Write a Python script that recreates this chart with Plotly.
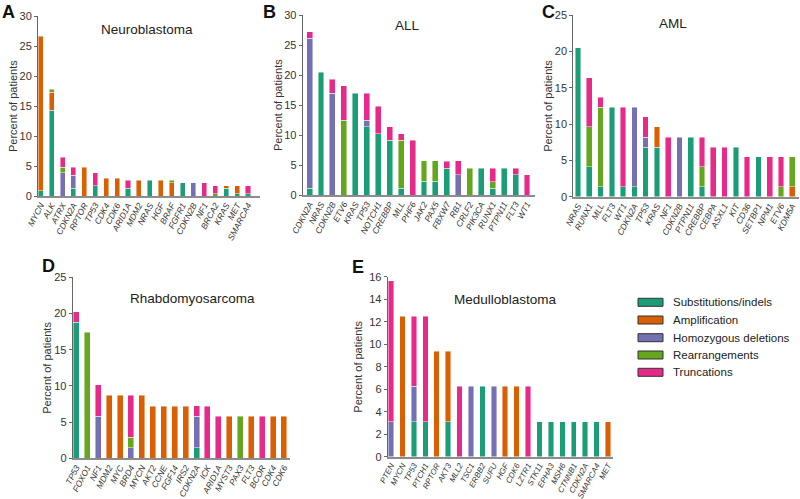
import plotly.graph_objects as go

CATS = ["Substitutions/indels", "Amplification", "Homozygous deletions", "Rearrangements", "Truncations"]
COLORS = ["#1b9e77", "#d95f02", "#7570b3", "#66a61e", "#e7298a"]

# ---------------- A: Neuroblastoma ----------------
nb_genes = ["MYCN", "ALK", "ATRX", "CDKN2A", "RPTOR", "TP53", "CDK4", "CDK6", "ARID1A", "MDM2",
            "NRAS", "HGF", "BRAF", "FGFR1", "CDKN2B", "NF1", "BRCA2", "KRAS", "MET", "SMARCA4"]
nb_subst = [0.9, 14.3, 0, 1.3, 0, 1.7, 0, 0, 1.3, 0, 2.6, 0, 0, 2.2, 0, 0, 0, 1.3, 0.4, 0.4]
nb_amp = [25.7, 3.0, 0, 0, 4.8, 0, 3.0, 3.0, 0, 2.6, 0, 2.6, 2.2, 0, 0, 0, 0, 0.4, 1.3, 0]
nb_homdel = [0, 0, 3.9, 2.2, 0, 0, 0, 0, 0, 0, 0, 0, 0, 0, 2.2, 0, 0, 0, 0, 0]
nb_rearr = [0, 0.5, 0.9, 0, 0, 0, 0, 0, 0, 0, 0, 0, 0.4, 0, 0, 0, 0.4, 0, 0, 0]
nb_trunc = [0, 0, 1.7, 1.3, 0, 2.2, 0, 0, 1.3, 0, 0, 0, 0, 0, 0, 2.2, 1.3, 0, 0, 1.3]

# ---------------- B: ALL ----------------
all_genes = ["CDKN2A", "NRAS", "CDKN2B", "ETV6", "KRAS", "TP53", "NOTCH1", "CREBBP", "MLL", "PHF6",
             "JAK2", "PAX5", "FBXW7", "RB1", "CRLF2", "PIK3CA", "RUNX1", "PTPN11", "FLT3", "WT1"]
all_subst = [1.1, 20.5, 0, 0, 17.0, 11.4, 10.2, 9.1, 1.1, 0, 2.3, 2.3, 4.5, 0, 0, 4.5, 1.1, 4.5, 3.4, 0]
all_amp = [0] * 20
all_homdel = [25.0, 0, 17.0, 0, 0, 1.1, 0, 0, 0, 0, 0, 0, 0, 3.4, 0, 0, 0, 0, 0, 0]
all_rearr = [0, 0, 0, 12.5, 0, 0, 0, 0, 8.0, 0, 3.4, 3.4, 0, 0, 4.5, 0, 1.1, 0, 0, 0]
all_trunc = [1.1, 0, 2.3, 5.7, 0, 4.5, 4.6, 2.3, 1.1, 9.1, 0, 0, 1.1, 2.3, 0, 0, 2.3, 0, 1.1, 3.4]

# ---------------- C: AML ----------------
aml_genes = ["NRAS", "RUNX1", "MLL", "FLT3", "WT1", "CDKN2A", "TP53", "KRAS", "NF1", "CDKN2B",
             "PTPN11", "CREBBP", "CEBPA", "ASXL1", "KIT", "CD36", "SETBP1", "NPM1", "ETV6", "KDM5A"]
aml_subst = [20.5, 4.1, 1.4, 12.3, 1.4, 1.4, 6.8, 6.8, 0, 0, 8.2, 1.4, 0, 0, 6.8, 0, 5.5, 0, 0, 0]
aml_amp = [0, 0, 0, 0, 0, 0, 0, 2.8, 0, 0, 0, 0, 0, 0, 0, 0, 0, 0, 0, 1.4]
aml_homdel = [0, 0, 0, 0, 0, 10.9, 1.4, 0, 0, 8.2, 0, 0, 0, 0, 0, 0, 0, 0, 0, 0]
aml_rearr = [0, 5.5, 10.9, 0, 0, 0, 0, 0, 0, 0, 0, 2.7, 0, 0, 0, 0, 0, 0, 1.4, 4.1]
aml_trunc = [0, 6.8, 1.4, 0, 10.9, 0, 2.8, 0, 8.2, 0, 0, 4.1, 6.8, 6.8, 0, 5.5, 0, 5.5, 4.1, 0]

# ---------------- D: Rhabdomyosarcoma ----------------
rms_genes = ["TP53", "FOXO1", "NF1", "MDM2", "MYC", "BRD4", "MYCN", "AKT2", "CCNE", "FGF14",
             "IRS2", "CDKN2A", "ICK", "ARID1A", "MYST3", "PAX3", "FLT3", "BCOR", "CDK4", "CDK6"]
rms_subst = [18.8, 0, 0, 0, 0, 0, 0, 0, 0, 0, 0, 1.45, 0, 0, 0, 0, 0, 0, 0, 0]
rms_amp = [0, 0, 0, 8.7, 8.7, 0, 8.7, 7.2, 7.2, 7.2, 7.2, 0, 0, 0, 5.8, 0, 5.8, 0, 5.8, 5.8]
rms_homdel = [0, 0, 5.8, 0, 0, 1.45, 0, 0, 0, 0, 0, 4.35, 0, 0, 0, 0, 0, 0, 0, 0]
rms_rearr = [0, 17.4, 0, 0, 0, 1.45, 0, 0, 0, 0, 0, 0, 0, 0, 0, 5.8, 0, 0, 0, 0]
rms_trunc = [1.45, 0, 4.35, 0, 0, 5.8, 0, 0, 0, 0, 0, 1.45, 7.2, 5.8, 0, 0, 0, 5.8, 0, 0]

# ---------------- E: Medulloblastoma ----------------
mb_genes = ["PTEN", "MYCN", "TP53", "PTCH1", "RPTOR", "AKT3", "MLL2", "TSC1", "ERBB2", "SUFU",
            "HGF", "CDK6", "LZTR1", "STK11", "EPHA3", "MSH6", "CTNNB1", "CDKN2A", "SMARCA4", "MET"]
mb_subst = [0, 0, 3.125, 3.125, 0, 3.125, 0, 0, 6.25, 0, 0, 0, 0, 3.125, 3.125, 3.125, 3.125, 3.125, 3.125, 0]
mb_amp = [0, 12.5, 0, 0, 9.375, 6.25, 0, 0, 0, 0, 6.25, 6.25, 0, 0, 0, 0, 0, 0, 0, 3.125]
mb_homdel = [3.125, 0, 3.125, 0, 0, 0, 0, 6.25, 0, 6.25, 0, 0, 0, 0, 0, 0, 0, 0, 0, 0]
mb_rearr = [0] * 20
mb_trunc = [12.5, 0, 6.25, 9.375, 0, 0, 6.25, 0, 0, 0, 0, 0, 6.25, 0, 0, 0, 0, 0, 0, 0]

W, H = 800, 499
def px(x):
    return x / W
def py(y):
    return 1 - y / H

panels = [
    dict(genes=nb_genes, data=[nb_subst, nb_amp, nb_homdel, nb_rearr, nb_trunc], ymax=30, dtick=5,
         xdom=[38, 260], ydom=[196, 16], xr=[-0.25, 20.1], title="Neuroblastoma", tpos=(147, 30),
         letter="A", lpos=(8, 12), ytpos=13, width=0.46, lab=8.5),
    dict(genes=all_genes, data=[all_subst, all_amp, all_homdel, all_rearr, all_trunc], ymax=30, dtick=5,
         xdom=[302.7, 535], ydom=[195, 15], xr=[-0.6, 19.7], title="ALL", tpos=(407, 25),
         letter="B", lpos=(269, 12), ytpos=278, width=0.52, lab=8.5),
    dict(genes=aml_genes, data=[aml_subst, aml_amp, aml_homdel, aml_rearr, aml_trunc], ymax=25, dtick=5,
         xdom=[573.3, 799], ydom=[196.7, 15], xr=[-0.42, 19.6], title="AML", tpos=(673, 23),
         letter="C", lpos=(548, 12), ytpos=548, width=0.5, lab=8.5),
    dict(genes=rms_genes, data=[rms_subst, rms_amp, rms_homdel, rms_rearr, rms_trunc], ymax=25, dtick=5,
         xdom=[72.7, 290], ydom=[458.3, 277.3], xr=[-0.33, 19.55], title="Rhabdomyosarcoma", tpos=(192, 298),
         letter="D", lpos=(48, 266), ytpos=47, width=0.55, lab=8.5),
    dict(genes=mb_genes, data=[mb_subst, mb_amp, mb_homdel, mb_rearr, mb_trunc], ymax=16, dtick=2,
         xdom=[387.7, 612.7], ydom=[456.7, 276.7], xr=[-0.29, 19.41], title="Medulloblastoma", tpos=(505, 299),
         letter="E", lpos=(358, 267), ytpos=358, width=0.48, lab=8),
]

FONT = "Liberation Sans, Arial, sans-serif"
fig = go.Figure()
annotations = []
shapes = []
layout = dict(width=W, height=H, margin=dict(l=0, r=0, t=0, b=0, autoexpand=False), barmode="stack",
              plot_bgcolor="white", paper_bgcolor="white", showlegend=False,
              font=dict(family=FONT, color="#222"))

def ann(x, y, text, size, color="#222", xanchor="center", angle=0):
    return dict(x=px(x), y=py(y), xref="paper", yref="paper", text=text, showarrow=False,
                xanchor=xanchor, yanchor="middle", textangle=angle,
                font=dict(size=size, color=color, family=FONT))

for i, p in enumerate(panels):
    n = "" if i == 0 else str(i + 1)
    xa, ya = "x" + n, "y" + n
    for k in range(5):
        vals = [v if v > 0 else None for v in p["data"][k]]
        fig.add_trace(go.Bar(x=p["genes"], y=vals, name=CATS[k], xaxis=xa, yaxis=ya,
                             marker=dict(color=COLORS[k], line=dict(color="rgba(255,255,255,0.55)", width=0.8)),
                             width=p["width"], showlegend=False))
    layout["xaxis" + n] = dict(domain=[px(p["xdom"][0]), px(p["xdom"][1])], anchor=ya, automargin=False,
                               range=p["xr"], showline=True, linecolor="#8c8c8c", linewidth=2,
                               ticks="", tickangle=-62, showgrid=False, zeroline=False,
                               ticklabelstandoff=-1,
                               tickmode="array", tickvals=p["genes"], ticktext=p["genes"],
                               tickfont=dict(size=p["lab"], style="italic", color="#333", family=FONT),
                               categoryorder="array", categoryarray=p["genes"])
    layout["yaxis" + n] = dict(domain=[py(p["ydom"][0]), py(p["ydom"][1])], anchor=xa, automargin=False,
                               range=[0, p["ymax"]], dtick=p["dtick"], showline=True, linecolor="#666",
                               linewidth=1, ticks="outside", ticklen=3, tickcolor="#666",
                               showgrid=False, zeroline=False,
                               tickfont=dict(size=11, color="#333", family=FONT))
    annotations.append(ann(p["tpos"][0], p["tpos"][1], p["title"], 13.5))
    annotations.append(ann(p["lpos"][0], p["lpos"][1], "<b>" + p["letter"] + "</b>", 18, "#111"))
    ymid = (p["ydom"][0] + p["ydom"][1]) / 2
    annotations.append(ann(p["ytpos"], ymid, "Percent of patients", 11, "#333", angle=-90))

# legend (manual)
rows = [302.3, 320, 337.7, 355, 372.3]
for k in range(5):
    y = rows[k]
    shapes.append(dict(type="rect", xref="paper", yref="paper", x0=px(638), x1=px(663),
                       y0=py(y + 4), y1=py(y - 4), fillcolor=COLORS[k],
                       line=dict(color="#333", width=1)))
    annotations.append(ann(671, y, CATS[k], 11.5, "#222", xanchor="left"))

layout["annotations"] = annotations
layout["shapes"] = shapes
fig.update_layout(**layout)
fig.write_html("out.html", config={"displayModeBar": False},
               post_script="document.body.style.margin='0';document.body.style.overflow='hidden';")
